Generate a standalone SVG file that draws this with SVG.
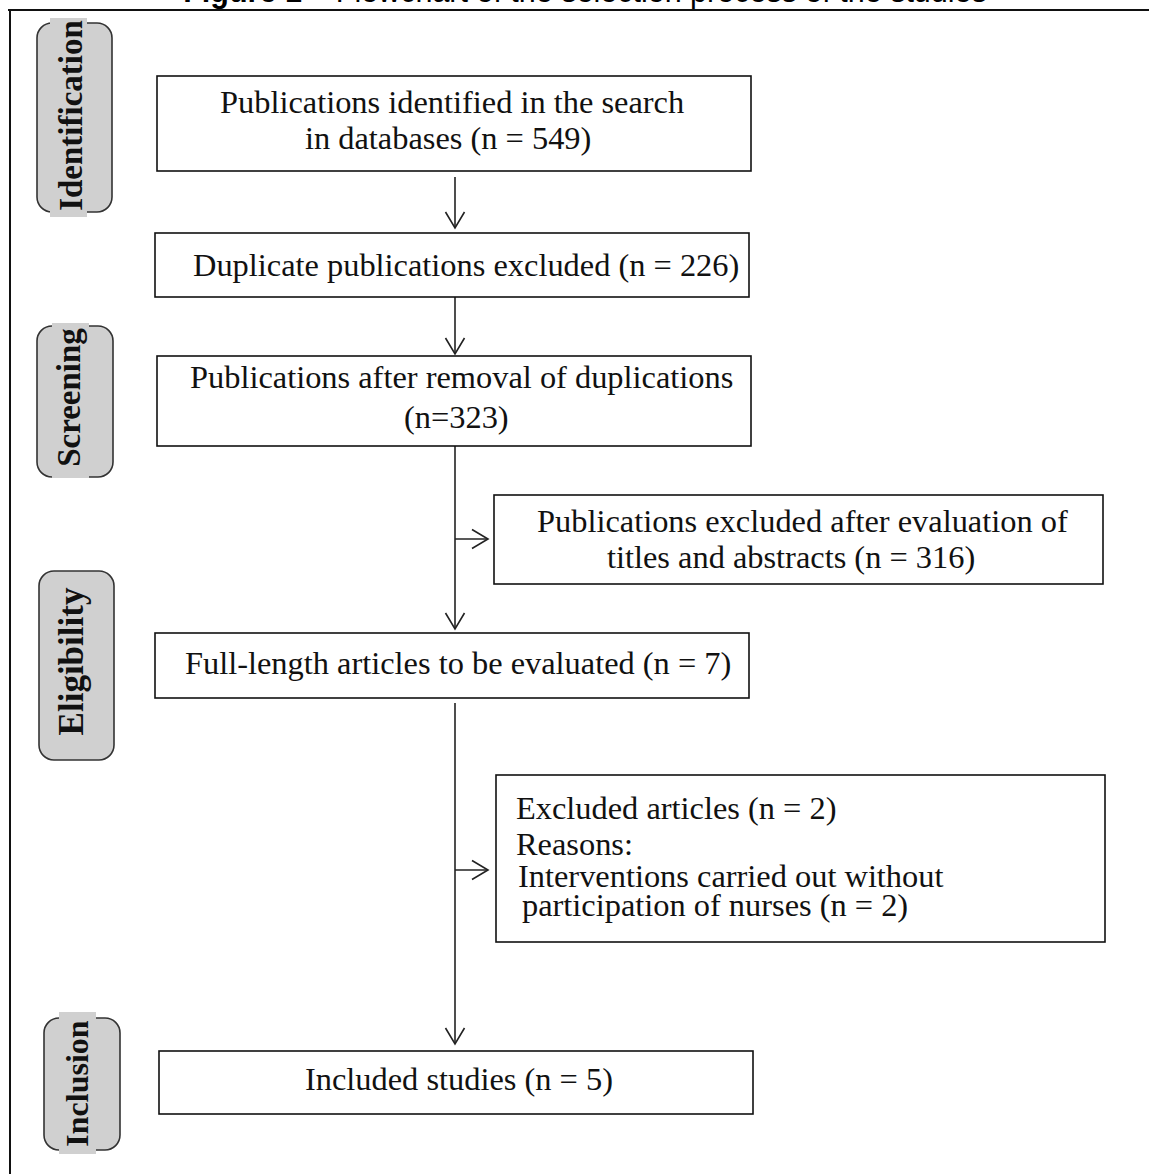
<svg xmlns="http://www.w3.org/2000/svg" width="1149" height="1174" viewBox="0 0 1149 1174">
<style>
.box{fill:#fff;stroke:#111;stroke-width:1.6}
.t{font-family:"Liberation Serif","Times New Roman",serif;font-size:32.4px;fill:#111}
.ph{font-family:"Liberation Serif","Times New Roman",serif;font-weight:bold;fill:#111}
.phbox{fill:#d0d0d0;stroke:#333;stroke-width:1.6}
.phbg{fill:#d0d0d0}
.c{fill:none;stroke:#222;stroke-width:1.6}
.title{font-family:"Liberation Sans",Arial,sans-serif;font-size:30.5px;fill:#000}
</style>
<defs>
<marker id="ah" markerUnits="userSpaceOnUse" markerWidth="24" markerHeight="24" viewBox="-20 -12 24 24" refX="0" refY="0" orient="auto">
<path d="M-16,-9.5 L0,0 L-16,9.5" fill="none" stroke="#222" stroke-width="1.6"/>
</marker>
</defs>
<g id="title">
<text class="title" x="585" y="2" text-anchor="middle"><tspan font-weight="bold">Figure 1</tspan> – Flowchart of the selection process of the studies</text>
</g>
<g id="frame">
<line x1="8" y1="10" x2="1149" y2="10" stroke="#111" stroke-width="2"/>
<line x1="10" y1="10" x2="10" y2="1174" stroke="#111" stroke-width="2"/>
</g>
<g id="phase-identification">
<rect class="phbox" x="37" y="23" width="75" height="189" rx="15"/>
<rect class="phbg" x="50" y="18" width="37" height="199"/>
<text class="ph" font-size="33" transform="translate(82,115.5) rotate(-90)" text-anchor="middle">Identification</text>
</g>
<g id="phase-screening">
<rect class="phbox" x="37" y="326" width="76" height="151" rx="15"/>
<rect class="phbg" x="52" y="323" width="37" height="155"/>
<text class="ph" font-size="33" transform="translate(80,397.5) rotate(-90)" text-anchor="middle">Screening</text>
</g>
<g id="phase-eligibility">
<rect class="phbox" x="39" y="571" width="75" height="189" rx="15"/>
<text class="ph" font-size="35" transform="translate(83,661.5) rotate(-90)" text-anchor="middle">Eligibility</text>
</g>
<g id="phase-inclusion">
<rect class="phbox" x="44" y="1018" width="76" height="132" rx="15"/>
<rect class="phbg" x="59" y="1012" width="37" height="142"/>
<text class="ph" font-size="32" transform="translate(88,1083.5) rotate(-90)" text-anchor="middle">Inclusion</text>
</g>
<g id="connectors">
<line class="c" x1="455" y1="177" x2="455" y2="228" marker-end="url(#ah)"/>
<line class="c" x1="455" y1="297" x2="455" y2="354" marker-end="url(#ah)"/>
<line class="c" x1="455" y1="446" x2="455" y2="629" marker-end="url(#ah)"/>
<line class="c" x1="455" y1="539" x2="488" y2="539" marker-end="url(#ah)"/>
<line class="c" x1="455" y1="703" x2="455" y2="1044" marker-end="url(#ah)"/>
<line class="c" x1="455" y1="870" x2="488" y2="870" marker-end="url(#ah)"/>
</g>
<g id="n1">
<rect class="box" x="157" y="76" width="594" height="95"/>
<text class="t" x="220" y="113">Publications identified in the search</text>
<text class="t" x="305" y="149">in databases (n = 549)</text>
</g>
<g id="n2">
<rect class="box" x="155" y="233" width="594" height="64"/>
<text class="t" x="193" y="276">Duplicate publications excluded (n = 226)</text>
</g>
<g id="n3">
<rect class="box" x="157" y="356" width="594" height="90"/>
<text class="t" x="190" y="388">Publications after removal of duplications</text>
<text class="t" x="404" y="428">(n=323)</text>
</g>
<g id="n4">
<rect class="box" x="494" y="495" width="609" height="89"/>
<text class="t" x="537" y="532">Publications excluded after evaluation of</text>
<text class="t" x="607" y="568">titles and abstracts (n = 316)</text>
</g>
<g id="n5">
<rect class="box" x="155" y="633" width="594" height="65"/>
<text class="t" x="185" y="674">Full-length articles to be evaluated (n = 7)</text>
</g>
<g id="n6">
<rect class="box" x="496" y="775" width="609" height="167"/>
<text class="t" x="516" y="819">Excluded articles (n = 2)</text>
<text class="t" x="516" y="855">Reasons:</text>
<text class="t" x="518" y="887">Interventions carried out without</text>
<text class="t" x="522" y="916">participation of nurses (n = 2)</text>
</g>
<g id="n7">
<rect class="box" x="159" y="1051" width="594" height="63"/>
<text class="t" x="305" y="1090">Included studies (n = 5)</text>
</g>
</svg>
